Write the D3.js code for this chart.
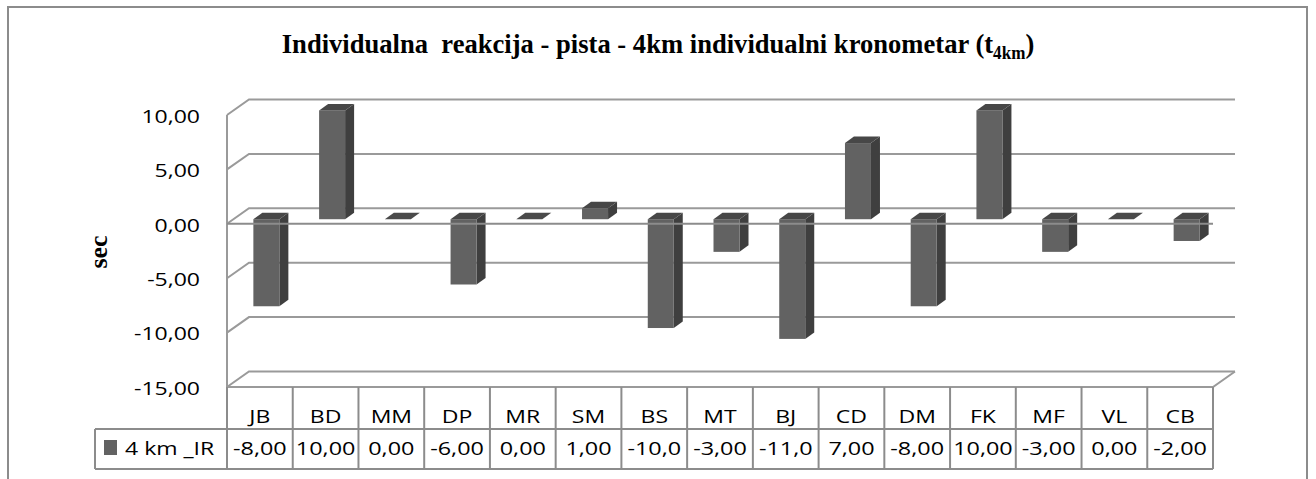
<!DOCTYPE html>
<html>
<head>
<meta charset="utf-8">
<script src="https://cdn.jsdelivr.net/npm/d3@7"></script>
<style>
    html, body { margin: 0; padding: 0; background: #fff; }
    #chart { width: 1316px; height: 479px; }
</style>
</head>
<body>
<div id="chart"></div>
<script>
// data
const categories = ['JB', 'BD', 'MM', 'DP', 'MR', 'SM', 'BS', 'MT', 'BJ', 'CD', 'DM', 'FK', 'MF', 'VL', 'CB'];
const values = [-8, 10, 0, -6, 0, 1, -10, -3, -11, 7, -8, 10, -3, 0, -2];
const yTicks = [-15, -10, -5, 0, 5, 10];
const seriesName = '4 km _IR';

class Column3D {

    constructor(opts) {
        this.element = opts.element;
        this.categories = opts.categories;
        this.values = opts.values;
        this.ticks = opts.ticks;
        this.name = opts.name;
        this.create();
    }

    create() {
        const W = 1316, H = 479;
        const svg = d3.select(this.element).append('svg')
            .attr('width', W).attr('height', H);
        this.svg = svg;

        // depth of the plot box and of each bar
        const dX = 22, dY = 15.5;
        const barW = 26, barDX = 9, barDY = 6.5;
        const frontDX = (dX - barDX) / 2, frontDY = frontDX * dY / dX;

        const x = d3.scaleBand().domain(this.categories).range([227, 1213]);
        const y = d3.scaleLinear().domain([-15, 10]).range([387, 115]);
        const left = x.range()[0], right = x.range()[1];

        const comma = v => d3.format('.2f')(v).replace('.', ',').replace('−', '-');
        const grid = '#9a9a9a';

        // outer frame
        svg.append('rect').attr('x', 8).attr('y', 7).attr('width', 1299).attr('height', 500)
            .attr('fill', 'none').attr('stroke', '#8c8c8c').attr('stroke-width', 2);

        // title (the original font is a bit condensed)
        const title = svg.append('g').attr('transform', 'translate(658,53) scale(0.95,1)')
            .append('text')
            .attr('text-anchor', 'middle')
            .style('font-family', '"Liberation Serif", "Times New Roman", serif')
            .style('font-weight', 'bold').style('font-size', '28px')
            .attr('fill', '#000');
        title.append('tspan').text('Individualna\u00a0 reakcija - pista - 4km individualni kronometar (t');
        title.append('tspan').attr('dy', 6).style('font-size', '18px').text('4km');
        title.append('tspan').attr('dy', -6).text(')');

        // y axis title
        svg.append('text')
            .attr('transform', 'translate(107,252) rotate(-90)')
            .attr('text-anchor', 'middle')
            .style('font-family', '"Liberation Serif", "Times New Roman", serif')
            .style('font-weight', 'bold').style('font-size', '26px')
            .attr('fill', '#000')
            .text('sec');

        // back wall gridlines + side diagonals
        const g = svg.append('g').attr('fill', 'none').attr('stroke', grid).attr('stroke-width', 2);
        this.ticks.forEach(t => {
            g.append('path').attr('d',
                `M${left},${y(t)}L${left + dX},${y(t) - dY}L${right + dX},${y(t) - dY}`);
        });
        // left front edge
        g.append('line').attr('x1', left).attr('x2', left).attr('y1', y(10)).attr('y2', y(-15));
        // floor front edge
        g.append('path').attr('d', `M${left},${y(-15)}L${right},${y(-15)}L${right + dX},${y(-15) - dY}`);

        // tick labels
        svg.append('g').selectAll('text').data(this.ticks).join('text')
            .attr('transform', d => `translate(200,${y(d) + 3}) scale(1.28,1)`)
            .attr('text-anchor', 'end').attr('dominant-baseline', 'middle')
            .style('font-family', '"Open Sans", sans-serif').style('font-size', '18px')
            .attr('fill', '#000')
            .text(d => comma(d));

        // bars
        const bars = svg.append('g');
        this.categories.forEach((c, i) => {
            const v = this.values[i];
            const x0 = x(c) + x.bandwidth() / 2 - barW / 2 + frontDX;
            const x1 = x0 + barW;
            const yz = y(0) - frontDY, yv = y(v) - frontDY;
            const yTop = Math.min(yz, yv), yBot = Math.max(yz, yv);
            const b = bars.append('g');
            if (v !== 0) {
                b.append('path').attr('fill', '#3f3f3f')
                    .attr('d', `M${x1},${yTop}L${x1 + barDX},${yTop - barDY}L${x1 + barDX},${yBot - barDY}L${x1},${yBot}Z`);
                b.append('rect').attr('fill', '#626262')
                    .attr('x', x0).attr('y', yTop).attr('width', barW).attr('height', yBot - yTop);
            }
            b.append('path').attr('fill', v === 0 ? '#4a4a4a' : '#474747')
                .attr('d', `M${x0},${yTop}L${x0 + barDX},${yTop - barDY}L${x1 + barDX},${yTop - barDY}L${x1},${yTop}Z`);
        });

        // category axis line at zero, over the bars
        svg.append('line').attr('x1', left).attr('x2', right).attr('y1', y(0)).attr('y2', y(0))
            .attr('stroke', '#8c8c8c').attr('stroke-width', 2);

        // data table
        const r1 = 387, r2 = 429, r3 = 469, legL = 95;
        const tg = svg.append('g').attr('stroke', '#8c8c8c').attr('stroke-width', 2).attr('fill', 'none');
        const edges = this.categories.map(c => x(c)).concat([right]);
        tg.selectAll('line.v').data(edges).join('line').attr('class', 'v')
            .attr('x1', d => d).attr('x2', d => d).attr('y1', r1).attr('y2', r3);
        tg.append('line').attr('x1', legL).attr('x2', right).attr('y1', r2).attr('y2', r2);
        tg.append('line').attr('x1', legL).attr('x2', right).attr('y1', r3).attr('y2', r3);
        tg.append('line').attr('x1', legL).attr('x2', legL).attr('y1', r2).attr('y2', r3);

        const cellText = sel => sel
            .attr('text-anchor', 'middle')
            .style('font-family', '"Open Sans", sans-serif').style('font-size', '18px')
            .attr('fill', '#000');

        svg.append('g').selectAll('text').data(this.categories).join('text')
            .attr('transform', d => `translate(${x(d) + x.bandwidth() / 2},423) scale(1.28,1)`)
            .call(cellText)
            .text(d => d);

        svg.append('g').selectAll('text').data(this.values).join('text')
            .attr('transform', (d, i) => `translate(${x(this.categories[i]) + x.bandwidth() / 2},455) scale(1.3,1)`)
            .call(cellText)
            .text(d => comma(d).slice(0, 5));

        // legend key in the table
        svg.append('rect').attr('x', 104).attr('y', 440).attr('width', 13).attr('height', 15)
            .attr('fill', '#626262');
        svg.append('text')
            .attr('transform', 'translate(125,455) scale(1.28,1)')
            .style('font-family', '"Open Sans", sans-serif').style('font-size', '18px')
            .attr('fill', '#000')
            .text(this.name);
    }
}

new Column3D({
    element: document.getElementById('chart'),
    categories: categories,
    values: values,
    ticks: yTicks,
    name: seriesName
});
</script>
</body>
</html>
